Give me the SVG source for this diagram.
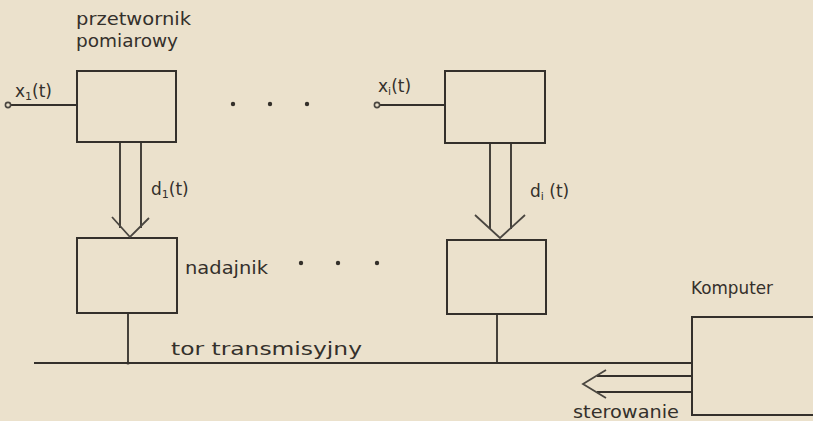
<svg xmlns="http://www.w3.org/2000/svg" width="813" height="421" viewBox="0 0 813 421">
  <style>
    .bg { fill: #ebe1cc; }
    .box { fill: none; stroke: #34302b; stroke-width: 2; }
    .wire { fill: none; stroke: #34302b; stroke-width: 1.8; }
    .head { fill: none; stroke: #4a4640; stroke-width: 1.8; stroke-linejoin: miter; }
    .term { fill: #ebe1cc; stroke: #4a4640; stroke-width: 1.6; }
    .dot { fill: #34302b; }
    .lbl { font-family: "DejaVu Sans", "Liberation Sans", sans-serif; font-size: 18px; fill: #34302b; }
    .sig { font-size: 17px; }
    .sub { font-size: 11px; }
  </style>

  <rect class="bg" x="0" y="0" width="813" height="421"/>

  <!-- measuring transducer, channel 1 -->
  <g id="converter-1">
    <rect class="box" x="77" y="71" width="99" height="71"/>
    <text class="lbl" x="76" y="25" textLength="115" lengthAdjust="spacingAndGlyphs">przetwornik</text>
    <text class="lbl" x="76" y="47" textLength="102" lengthAdjust="spacingAndGlyphs">pomiarowy</text>
  </g>

  <!-- measuring transducer, channel i -->
  <g id="converter-i">
    <rect class="box" x="445" y="71" width="100" height="72"/>
  </g>

  <!-- transmitter, channel 1 -->
  <g id="transmitter-1">
    <rect class="box" x="77" y="238" width="100" height="75"/>
    <text class="lbl" x="185" y="274" textLength="83" lengthAdjust="spacingAndGlyphs">nadajnik</text>
  </g>

  <!-- transmitter, channel i -->
  <g id="transmitter-i">
    <rect class="box" x="447" y="240" width="99" height="74"/>
  </g>

  <!-- computer -->
  <g id="computer">
    <rect class="box" x="692" y="317" width="130" height="98"/>
    <text class="lbl" x="691" y="294" textLength="82" lengthAdjust="spacingAndGlyphs">Komputer</text>
  </g>

  <!-- ellipsis between channels -->
  <g id="ellipsis">
    <circle class="dot" cx="233" cy="104" r="2.2"/>
    <circle class="dot" cx="270" cy="104" r="2.2"/>
    <circle class="dot" cx="307" cy="104" r="2.2"/>
    <circle class="dot" cx="301" cy="263" r="2.2"/>
    <circle class="dot" cx="338" cy="263" r="2.2"/>
    <circle class="dot" cx="377" cy="263" r="2.2"/>
  </g>

  <g id="connectors">
    <!-- input signals -->
    <line class="wire" x1="10" y1="105" x2="77" y2="105"/>
    <circle class="term" cx="8" cy="105" r="2.6"/>
    <line class="wire" x1="379" y1="105" x2="445" y2="105"/>
    <circle class="term" cx="377" cy="105" r="2.6"/>

    <!-- d1(t): hollow arrow down -->
    <line class="wire" x1="120" y1="142" x2="120" y2="228"/>
    <line class="wire" x1="141" y1="142" x2="141" y2="228"/>
    <polyline class="head" points="112,217 130,237 149,218"/>

    <!-- di(t): hollow arrow down -->
    <line class="wire" x1="490" y1="143" x2="490" y2="229"/>
    <line class="wire" x1="511" y1="143" x2="511" y2="229"/>
    <polyline class="head" points="475,215 500,238 525,215"/>

    <!-- transmission line -->
    <line class="wire" x1="34" y1="363" x2="692" y2="363"/>
    <line class="wire" x1="128" y1="313" x2="128" y2="363"/>
    <line class="wire" x1="497" y1="314" x2="497" y2="363"/>
    <circle class="dot" cx="128" cy="363" r="1.6"/>

    <!-- control: hollow arrow left -->
    <line class="wire" x1="692" y1="376" x2="597" y2="376"/>
    <line class="wire" x1="692" y1="392" x2="597" y2="392"/>
    <polyline class="head" points="606,370 583,384 606,398"/>
  </g>

  <g id="labels">
    <text class="lbl sig" x="15" y="97">x<tspan class="sub" dy="3">1</tspan><tspan dy="-3">(t)</tspan></text>
    <text class="lbl sig" x="378" y="92">x<tspan class="sub" dy="3">i</tspan><tspan dy="-3">(t)</tspan></text>
    <text class="lbl sig" x="151" y="195">d<tspan class="sub" dy="3">1</tspan><tspan dy="-3">(t)</tspan></text>
    <text class="lbl sig" x="530" y="197">d<tspan class="sub" dy="3">i</tspan><tspan dy="-3"> (t)</tspan></text>
    <text class="lbl" x="171" y="355" textLength="191" lengthAdjust="spacingAndGlyphs">tor transmisyjny</text>
    <text class="lbl" x="573" y="418" textLength="106" lengthAdjust="spacingAndGlyphs">sterowanie</text>
  </g>
</svg>
